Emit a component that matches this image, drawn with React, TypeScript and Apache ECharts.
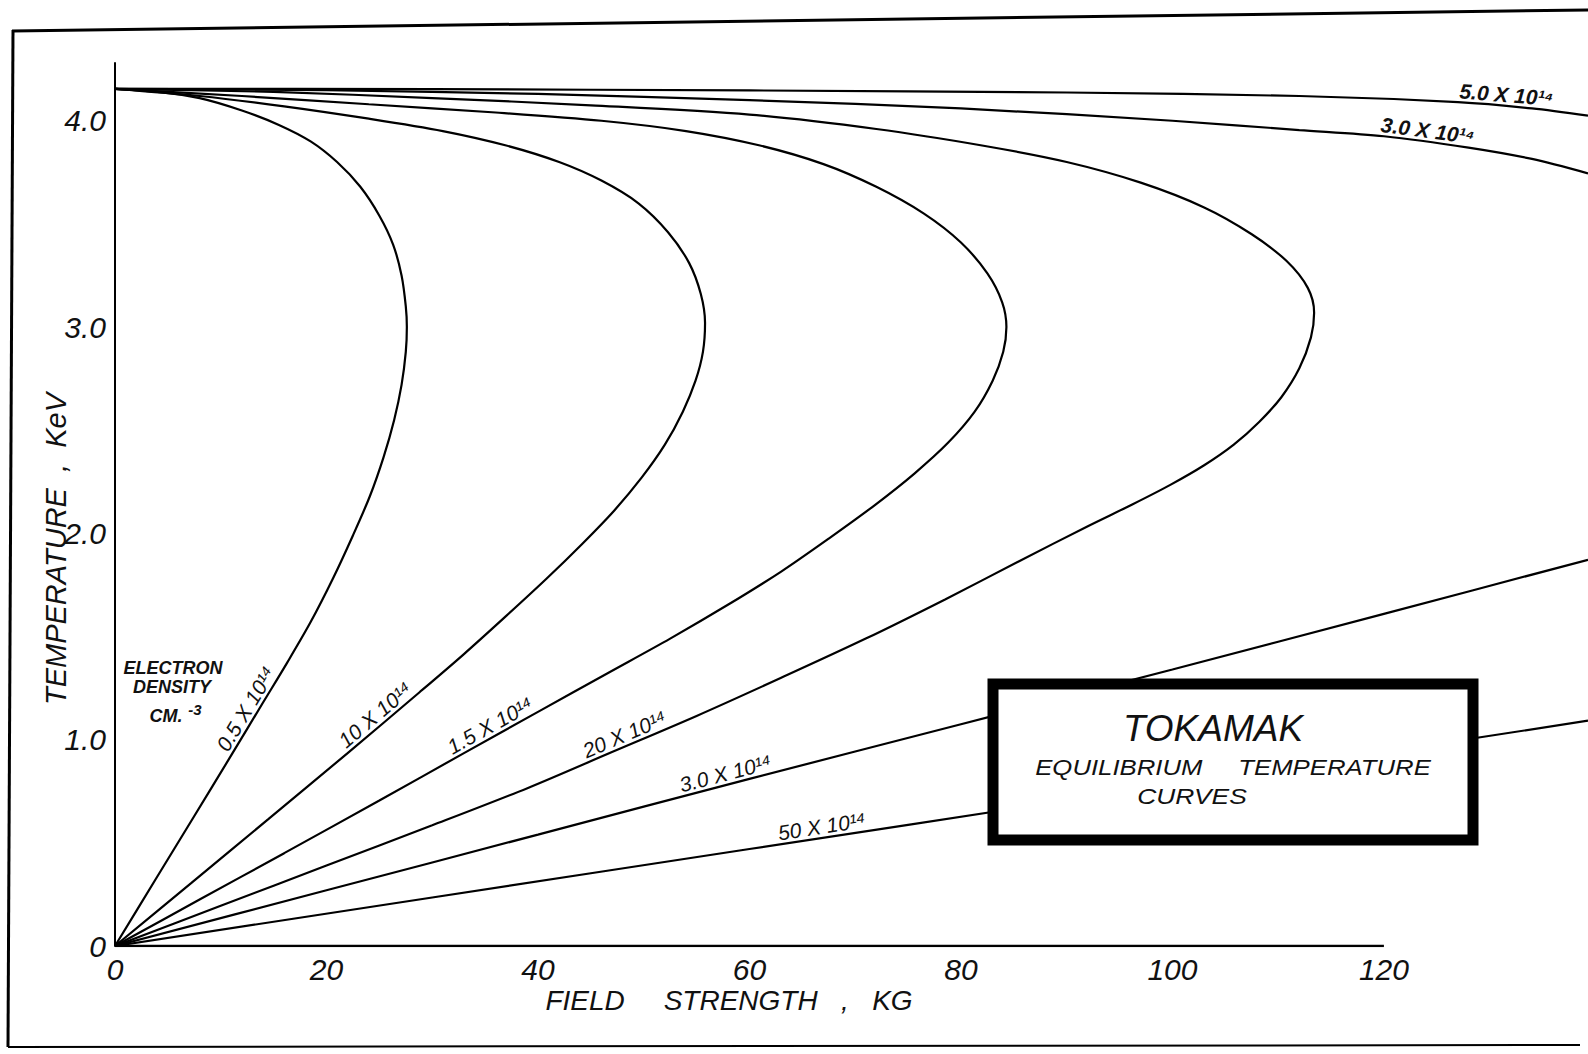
import React, { useEffect, useRef } from "react";
import * as echarts from "echarts";

const PAGE_W = 1588;
const PAGE_H = 1054;

// Field axis is lettered up to 120 kG, the curves run on to the sheet edge
const fieldTicks = [0, 20, 40, 60, 80, 100, 120];
const tempTicks = [0, 1, 2, 3, 4];
const FIELD_MAX = 139.3;
const TEMP_MAX = 4.28;
const FIELD_AXIS_END = 120;

// Equilibrium loci, [field strength kG, temperature keV], one per electron density
const n05: number[][] = [
  [0, 4.155], [4, 4.14], [8, 4.11], [12, 4.05], [15.5, 3.98], [18.5, 3.9], [21, 3.8],
  [23.2, 3.68], [25, 3.54], [26.3, 3.4], [27.1, 3.25], [27.5, 3.1], [27.6, 3.0],
  [27.5, 2.88], [27.1, 2.72], [26.4, 2.55], [25.4, 2.37], [24.1, 2.18], [22.5, 1.99],
  [20.6, 1.78], [18.5, 1.57], [16.3, 1.375], [14, 1.18], [11, 0.925], [7.5, 0.63],
  [3.8, 0.32], [0, 0],
];
const n10: number[][] = [
  [0, 4.155], [8, 4.12], [16, 4.07], [24, 4.01], [31, 3.95], [37, 3.88], [42, 3.8],
  [46, 3.71], [49.5, 3.6], [52.3, 3.46], [54.3, 3.31], [55.4, 3.16], [55.8, 3.02],
  [55.6, 2.88], [54.9, 2.74], [53.7, 2.59], [52, 2.43], [49.8, 2.27], [47.2, 2.11],
  [44.2, 1.95], [40.8, 1.78], [37, 1.6], [33, 1.415], [28.8, 1.23], [22, 0.935],
  [14.5, 0.615], [7.2, 0.305], [0, 0],
];
const n15: number[][] = [
  [0, 4.155], [12, 4.12], [24, 4.08], [36, 4.04], [46, 4.0], [54, 3.95], [61, 3.88],
  [67, 3.79], [72, 3.68], [76.5, 3.55], [80, 3.41], [82.5, 3.26], [83.9, 3.12],
  [84.3, 3.0], [84.0, 2.88], [83.0, 2.74], [81.3, 2.59], [78.8, 2.44], [75.6, 2.29],
  [71.8, 2.135], [67.5, 1.975], [63, 1.815], [58, 1.655], [52.5, 1.49], [46.5, 1.32],
  [40, 1.135], [33, 0.935], [25, 0.705], [16, 0.45], [8, 0.225], [0, 0],
];
const n20: number[][] = [
  [0, 4.155], [15, 4.14], [30, 4.11], [45, 4.075], [60, 4.03], [72, 3.96], [82, 3.88],
  [90, 3.8], [97, 3.7], [103, 3.58], [107.5, 3.45], [110.8, 3.32], [112.8, 3.19],
  [113.4, 3.07], [113.1, 2.95], [112, 2.8], [110.3, 2.66], [108.2, 2.54], [105.8, 2.43],
  [103, 2.33], [99.8, 2.235], [96.2, 2.14], [92, 2.035], [85.5, 1.865], [78.5, 1.68],
  [71, 1.49], [63, 1.3], [55, 1.115], [47, 0.94], [39, 0.765], [30, 0.585], [20, 0.39],
  [10, 0.195], [0, 0],
];
// the two densest loci leave the sheet, so each is kept as two branches
const n30Upper: number[][] = [
  [0, 4.155], [20, 4.148], [40, 4.13], [60, 4.1], [80, 4.06], [100, 4.0], [112, 3.955],
  [120, 3.925], [128, 3.87], [134, 3.815], [139.3, 3.745],
];
const n30Lower: number[][] = [
  [139.3, 1.872], [120, 1.61], [100, 1.34], [80, 1.075], [60, 0.81], [40, 0.54],
  [20, 0.27], [0, 0],
];
const n50Upper: number[][] = [
  [0, 4.155], [30, 4.153], [60, 4.147], [90, 4.137], [112, 4.12], [127, 4.09],
  [134, 4.06], [139.3, 4.025],
];
const n50Lower: number[][] = [
  [139.3, 1.092], [120, 0.94], [90, 0.705], [60, 0.47], [30, 0.235], [0, 0],
];

const loci = [n05, n10, n15, n20, n30Upper, n30Lower, n50Upper, n50Lower];

// density captions written along the curves: text, curve, branch, field value of the anchor
const curveCaptions = [
  { text: "0.5 X 10¹⁴", path: n05, part: "lower", at: 13.3, bold: false },
  { text: "10 X 10¹⁴", path: n10, part: "lower", at: 25.3, bold: false },
  { text: "1.5 X 10¹⁴", path: n15, part: "lower", at: 36.0, bold: false },
  { text: "20 X 10¹⁴", path: n20, part: "lower", at: 48.6, bold: false },
  { text: "3.0 X 10¹⁴", path: n30Lower, part: "lower", at: 58.0, bold: false },
  { text: "50 X 10¹⁴", path: n50Lower, part: "lower", at: 67.0, bold: false },
  { text: "5.0 X 10¹⁴", path: n50Upper, part: "upper", at: 131.5, bold: true },
  { text: "3.0 X 10¹⁴", path: n30Upper, part: "upper", at: 124.0, bold: true },
];

const LETTER = '"Liberation Sans", "DejaVu Sans", sans-serif';
const INK = "#111";

function locate(path: number[][], x: number, part: string) {
  let iMax = 0;
  path.forEach((p, i) => {
    if (p[0] > path[iMax][0]) iMax = i;
  });
  const s = part === "lower" ? iMax : 0;
  const e = part === "lower" ? path.length - 1 : iMax;
  for (let i = s; i < e; i++) {
    const a = path[i];
    const b = path[i + 1];
    const lo = Math.min(a[0], b[0]);
    const hi = Math.max(a[0], b[0]);
    if (hi > lo && x >= lo && x <= hi) {
      const t = (x - a[0]) / (b[0] - a[0]);
      return { p: [x, a[1] + t * (b[1] - a[1])], a, b };
    }
  }
  return null;
}

export default function App() {
  const ref = useRef<HTMLDivElement>(null);

  useEffect(() => {
    document.body.style.margin = "0";
    document.body.style.background = "#fff";
    if (!ref.current) return;
    const chart = echarts.init(ref.current, undefined, { renderer: "svg" });

    const curveSeries = loci.map((data, i) => ({
      type: "line",
      name: "locus" + i,
      data,
      symbol: "none",
      showSymbol: false,
      smooth: 0.3,
      silent: true,
      lineStyle: { color: "#000", width: 2.2 },
      z: 3,
    }));

    chart.setOption({
      animation: false,
      backgroundColor: "#fff",
      tooltip: { show: false },
      grid: { left: 115, right: 0, top: 63, bottom: 108, containLabel: false },
      xAxis: {
        type: "value",
        min: 0,
        max: FIELD_MAX,
        interval: 20,
        axisLine: { show: false },
        axisTick: { show: false },
        splitLine: { show: false },
        axisLabel: {
          formatter: (v: number) => (fieldTicks.includes(v) ? String(v) : ""),
          fontSize: 30,
          fontStyle: "italic",
          fontFamily: LETTER,
          color: INK,
          margin: 8,
          showMaxLabel: false,
        },
      },
      yAxis: {
        type: "value",
        min: 0,
        max: TEMP_MAX,
        interval: 1,
        axisLine: { show: true, lineStyle: { color: "#000", width: 2 } },
        axisTick: { show: false },
        splitLine: { show: false },
        axisLabel: {
          formatter: (v: number) =>
            tempTicks.includes(v) ? (v === 0 ? "0" : v.toFixed(1)) : "",
          fontSize: 30,
          fontStyle: "italic",
          fontFamily: LETTER,
          color: INK,
          margin: 9,
        },
      },
      series: [
        ...curveSeries,
        {
          type: "line",
          name: "fieldAxis",
          data: [
            [0, 0],
            [FIELD_AXIS_END, 0],
          ],
          symbol: "none",
          silent: true,
          lineStyle: { color: "#000", width: 2.5 },
          z: 4,
        },
      ],
    });

    const px = (v: number[]) =>
      chart.convertToPixel({ xAxisIndex: 0, yAxisIndex: 0 }, v) as number[];

    const captionEls: any[] = [];
    curveCaptions.forEach((c) => {
      const hit = locate(c.path, c.at, c.part);
      if (!hit) return;
      const p = px(hit.p);
      let pa = px(hit.a);
      let pb = px(hit.b);
      if (pb[0] < pa[0]) [pa, pb] = [pb, pa];
      const theta = Math.atan2(pa[1] - pb[1], pb[0] - pa[0]);
      const d = 1;
      captionEls.push({
        type: "text",
        x: p[0] - d * Math.sin(theta),
        y: p[1] - d * Math.cos(theta),
        rotation: theta,
        z: 40,
        silent: true,
        style: {
          text: c.text,
          fontSize: 21,
          fontStyle: "italic",
          fontWeight: c.bold ? "bold" : "normal",
          fontFamily: LETTER,
          fill: INK,
          align: "center",
          verticalAlign: "bottom",
        },
      });
    });

    const textEl = (
      text: string,
      x: number,
      y: number,
      size: number,
      extra: any = {},
      styleExtra: any = {}
    ) => ({
      type: "text",
      x,
      y,
      z: 62,
      silent: true,
      ...extra,
      style: {
        text,
        fontSize: size,
        fontStyle: "italic",
        fontFamily: LETTER,
        fill: INK,
        align: "center",
        verticalAlign: "middle",
        ...styleExtra,
      },
    });

    chart.setOption({
      graphic: [
        // sheet border
        { type: "line", z: 50, silent: true, shape: { x1: 12, y1: 31, x2: 1588, y2: 10 }, style: { stroke: "#000", lineWidth: 3 } },
        { type: "line", z: 50, silent: true, shape: { x1: 13, y1: 30, x2: 8, y2: 1047 }, style: { stroke: "#000", lineWidth: 3 } },
        { type: "line", z: 50, silent: true, shape: { x1: 8, y1: 1047, x2: 1580, y2: 1045 }, style: { stroke: "#000", lineWidth: 2 } },
        // axis titles
        textEl("TEMPERATURE  ,  KeV", 56, 549, 29, { rotation: Math.PI / 2 }),
        textEl("FIELD     STRENGTH   ,   KG", 729, 1000, 28),
        // density legend
        textEl("ELECTRON", 173, 668, 18, {}, { fontWeight: "bold" }),
        textEl("DENSITY", 172, 687, 18, {}, { fontWeight: "bold" }),
        textEl("CM.", 166, 716, 18, {}, { fontWeight: "bold" }),
        textEl("-3", 195, 709, 15, {}, { fontWeight: "bold" }),
        ...captionEls,
        // title block
        {
          type: "rect",
          z: 60,
          silent: true,
          shape: { x: 993, y: 684, width: 480, height: 156 },
          style: { fill: "#fff", stroke: "#000", lineWidth: 11 },
        },
        textEl("TOKAMAK", 1213, 728, 37),
        textEl("EQUILIBRIUM     TEMPERATURE", 1233, 767, 22, { scaleX: 1.17 }),
        textEl("CURVES", 1192, 796, 22, { scaleX: 1.2 }),
      ],
    });

    return () => chart.dispose();
  }, []);

  return <div ref={ref} style={{ width: PAGE_W, height: PAGE_H, background: "#fff" }} />;
}
